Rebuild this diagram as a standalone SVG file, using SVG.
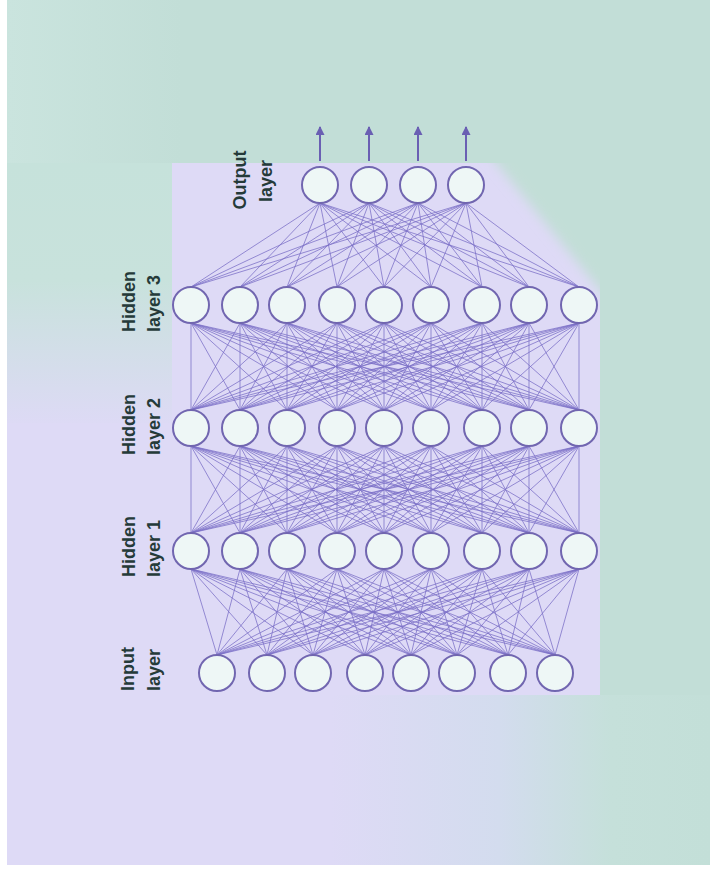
<svg xmlns="http://www.w3.org/2000/svg" width="710" height="877" viewBox="0 0 710 877">
<defs>
<style>
.nd{fill:#eef7f6;stroke:#7166b0;stroke-width:2}
.cn{fill:none;stroke:#7a6fc7;stroke-width:0.9;stroke-opacity:0.85}
.lb{font-family:"Liberation Sans",Arial,sans-serif;font-weight:bold;font-size:18px;fill:#253a39}
.ar{stroke:#6a5fb3;stroke-width:2;fill:none}
</style>
<marker id="ah" viewBox="0 0 10 10" refX="9" refY="5" markerWidth="10" markerHeight="9" orient="auto" markerUnits="userSpaceOnUse">
<path d="M0,0 L10,5 L0,10 z" fill="#6a5fb3"/>
</marker>
<filter id="soft" x="-20%" y="-20%" width="140%" height="140%">
<feGaussianBlur stdDeviation="6"/>
</filter>
<linearGradient id="gl" x1="0" y1="0" x2="0" y2="1">
<stop offset="0" stop-color="#c6e2db"/>
<stop offset="0.45" stop-color="#c8e2dc"/>
<stop offset="1" stop-color="#dddaf5"/>
</linearGradient>
<linearGradient id="gb" x1="7" y1="0" x2="710" y2="0" gradientUnits="userSpaceOnUse">
<stop offset="0" stop-color="#dedaf6"/>
<stop offset="0.46" stop-color="#dedaf6"/>
<stop offset="0.7" stop-color="#d3dcee"/>
<stop offset="0.86" stop-color="#c5e0da"/>
<stop offset="1" stop-color="#c3dfd8"/>
</linearGradient>
<linearGradient id="gt" x1="0" y1="0" x2="1" y2="0">
<stop offset="0" stop-color="#cae4de"/>
<stop offset="1" stop-color="#c2ded7"/>
</linearGradient>
</defs>
<g id="background">
<rect x="0" y="0" width="710" height="877" fill="#ffffff"/>
<rect x="7" y="0" width="703" height="865" fill="#dedaf6"/>
<polygon points="461,120 640,120 640,339" fill="#c2ded7" filter="url(#soft)"/>
<rect x="600" y="163" width="110" height="532" fill="#c2ded7"/>
<rect x="7" y="0" width="703" height="163" fill="#c2ded7"/>
<rect x="7" y="0" width="175" height="163" fill="url(#gt)"/>
<rect x="7" y="163" width="165" height="260" fill="url(#gl)"/>
<rect x="7" y="695" width="703" height="170" fill="url(#gb)"/>
</g>
<g id="connectors">
<path class="cn" d="M217 655L191 569M217 655L240 569M217 655L287 569M217 655L337 569M217 655L384 569M217 655L431 569M217 655L482 569M217 655L529 569M217 655L579 569
M267 655L191 569M267 655L240 569M267 655L287 569M267 655L337 569M267 655L384 569M267 655L431 569M267 655L482 569M267 655L529 569M267 655L579 569
M313 655L191 569M313 655L240 569M313 655L287 569M313 655L337 569M313 655L384 569M313 655L431 569M313 655L482 569M313 655L529 569M313 655L579 569
M365 655L191 569M365 655L240 569M365 655L287 569M365 655L337 569M365 655L384 569M365 655L431 569M365 655L482 569M365 655L529 569M365 655L579 569
M411 655L191 569M411 655L240 569M411 655L287 569M411 655L337 569M411 655L384 569M411 655L431 569M411 655L482 569M411 655L529 569M411 655L579 569
M457 655L191 569M457 655L240 569M457 655L287 569M457 655L337 569M457 655L384 569M457 655L431 569M457 655L482 569M457 655L529 569M457 655L579 569
M508 655L191 569M508 655L240 569M508 655L287 569M508 655L337 569M508 655L384 569M508 655L431 569M508 655L482 569M508 655L529 569M508 655L579 569
M555 655L191 569M555 655L240 569M555 655L287 569M555 655L337 569M555 655L384 569M555 655L431 569M555 655L482 569M555 655L529 569M555 655L579 569"/>
<path class="cn" d="M191 533L191 446M191 533L240 446M191 533L287 446M191 533L337 446M191 533L384 446M191 533L431 446M191 533L482 446M191 533L529 446M191 533L579 446
M240 533L191 446M240 533L240 446M240 533L287 446M240 533L337 446M240 533L384 446M240 533L431 446M240 533L482 446M240 533L529 446M240 533L579 446
M287 533L191 446M287 533L240 446M287 533L287 446M287 533L337 446M287 533L384 446M287 533L431 446M287 533L482 446M287 533L529 446M287 533L579 446
M337 533L191 446M337 533L240 446M337 533L287 446M337 533L337 446M337 533L384 446M337 533L431 446M337 533L482 446M337 533L529 446M337 533L579 446
M384 533L191 446M384 533L240 446M384 533L287 446M384 533L337 446M384 533L384 446M384 533L431 446M384 533L482 446M384 533L529 446M384 533L579 446
M431 533L191 446M431 533L240 446M431 533L287 446M431 533L337 446M431 533L384 446M431 533L431 446M431 533L482 446M431 533L529 446M431 533L579 446
M482 533L191 446M482 533L240 446M482 533L287 446M482 533L337 446M482 533L384 446M482 533L431 446M482 533L482 446M482 533L529 446M482 533L579 446
M529 533L191 446M529 533L240 446M529 533L287 446M529 533L337 446M529 533L384 446M529 533L431 446M529 533L482 446M529 533L529 446M529 533L579 446
M579 533L191 446M579 533L240 446M579 533L287 446M579 533L337 446M579 533L384 446M579 533L431 446M579 533L482 446M579 533L529 446M579 533L579 446"/>
<path class="cn" d="M191 410L191 323M191 410L240 323M191 410L287 323M191 410L337 323M191 410L384 323M191 410L431 323M191 410L482 323M191 410L529 323M191 410L579 323
M240 410L191 323M240 410L240 323M240 410L287 323M240 410L337 323M240 410L384 323M240 410L431 323M240 410L482 323M240 410L529 323M240 410L579 323
M287 410L191 323M287 410L240 323M287 410L287 323M287 410L337 323M287 410L384 323M287 410L431 323M287 410L482 323M287 410L529 323M287 410L579 323
M337 410L191 323M337 410L240 323M337 410L287 323M337 410L337 323M337 410L384 323M337 410L431 323M337 410L482 323M337 410L529 323M337 410L579 323
M384 410L191 323M384 410L240 323M384 410L287 323M384 410L337 323M384 410L384 323M384 410L431 323M384 410L482 323M384 410L529 323M384 410L579 323
M431 410L191 323M431 410L240 323M431 410L287 323M431 410L337 323M431 410L384 323M431 410L431 323M431 410L482 323M431 410L529 323M431 410L579 323
M482 410L191 323M482 410L240 323M482 410L287 323M482 410L337 323M482 410L384 323M482 410L431 323M482 410L482 323M482 410L529 323M482 410L579 323
M529 410L191 323M529 410L240 323M529 410L287 323M529 410L337 323M529 410L384 323M529 410L431 323M529 410L482 323M529 410L529 323M529 410L579 323
M579 410L191 323M579 410L240 323M579 410L287 323M579 410L337 323M579 410L384 323M579 410L431 323M579 410L482 323M579 410L529 323M579 410L579 323"/>
<path class="cn" d="M191 287L320 203M191 287L369 203M191 287L418 203M191 287L466 203
M240 287L320 203M240 287L369 203M240 287L418 203M240 287L466 203
M287 287L320 203M287 287L369 203M287 287L418 203M287 287L466 203
M337 287L320 203M337 287L369 203M337 287L418 203M337 287L466 203
M384 287L320 203M384 287L369 203M384 287L418 203M384 287L466 203
M431 287L320 203M431 287L369 203M431 287L418 203M431 287L466 203
M482 287L320 203M482 287L369 203M482 287L418 203M482 287L466 203
M529 287L320 203M529 287L369 203M529 287L418 203M529 287L466 203
M579 287L320 203M579 287L369 203M579 287L418 203M579 287L466 203"/>
<line class="ar" x1="320" y1="161" x2="320" y2="127" marker-end="url(#ah)"/>
<line class="ar" x1="369" y1="161" x2="369" y2="127" marker-end="url(#ah)"/>
<line class="ar" x1="418" y1="161" x2="418" y2="127" marker-end="url(#ah)"/>
<line class="ar" x1="466" y1="161" x2="466" y2="127" marker-end="url(#ah)"/>
</g>
<g id="output-layer">
<circle class="nd" cx="320" cy="185" r="18"/>
<circle class="nd" cx="369" cy="185" r="18"/>
<circle class="nd" cx="418" cy="185" r="18"/>
<circle class="nd" cx="466" cy="185" r="18"/>
<text class="lb" x="246" y="180" text-anchor="middle" transform="rotate(-90 246 180)">Output</text>
<text class="lb" x="272" y="181" text-anchor="middle" transform="rotate(-90 272 181)">layer</text>
</g>
<g id="hidden-layer-3">
<circle class="nd" cx="191" cy="305" r="18"/>
<circle class="nd" cx="240" cy="305" r="18"/>
<circle class="nd" cx="287" cy="305" r="18"/>
<circle class="nd" cx="337" cy="305" r="18"/>
<circle class="nd" cx="384" cy="305" r="18"/>
<circle class="nd" cx="431" cy="305" r="18"/>
<circle class="nd" cx="482" cy="305" r="18"/>
<circle class="nd" cx="529" cy="305" r="18"/>
<circle class="nd" cx="579" cy="305" r="18"/>
<text class="lb" x="135" y="332" transform="rotate(-90 135 332)">Hidden</text>
<text class="lb" x="160" y="332" transform="rotate(-90 160 332)">layer 3</text>
</g>
<g id="hidden-layer-2">
<circle class="nd" cx="191" cy="428" r="18"/>
<circle class="nd" cx="240" cy="428" r="18"/>
<circle class="nd" cx="287" cy="428" r="18"/>
<circle class="nd" cx="337" cy="428" r="18"/>
<circle class="nd" cx="384" cy="428" r="18"/>
<circle class="nd" cx="431" cy="428" r="18"/>
<circle class="nd" cx="482" cy="428" r="18"/>
<circle class="nd" cx="529" cy="428" r="18"/>
<circle class="nd" cx="579" cy="428" r="18"/>
<text class="lb" x="135" y="455" transform="rotate(-90 135 455)">Hidden</text>
<text class="lb" x="160" y="455" transform="rotate(-90 160 455)">layer 2</text>
</g>
<g id="hidden-layer-1">
<circle class="nd" cx="191" cy="551" r="18"/>
<circle class="nd" cx="240" cy="551" r="18"/>
<circle class="nd" cx="287" cy="551" r="18"/>
<circle class="nd" cx="337" cy="551" r="18"/>
<circle class="nd" cx="384" cy="551" r="18"/>
<circle class="nd" cx="431" cy="551" r="18"/>
<circle class="nd" cx="482" cy="551" r="18"/>
<circle class="nd" cx="529" cy="551" r="18"/>
<circle class="nd" cx="579" cy="551" r="18"/>
<text class="lb" x="135" y="577" transform="rotate(-90 135 577)">Hidden</text>
<text class="lb" x="160" y="577" transform="rotate(-90 160 577)">layer 1</text>
</g>
<g id="input-layer">
<circle class="nd" cx="217" cy="673" r="18"/>
<circle class="nd" cx="267" cy="673" r="18"/>
<circle class="nd" cx="313" cy="673" r="18"/>
<circle class="nd" cx="365" cy="673" r="18"/>
<circle class="nd" cx="411" cy="673" r="18"/>
<circle class="nd" cx="457" cy="673" r="18"/>
<circle class="nd" cx="508" cy="673" r="18"/>
<circle class="nd" cx="555" cy="673" r="18"/>
<text class="lb" x="134" y="691" transform="rotate(-90 134 691)">Input</text>
<text class="lb" x="160" y="691" transform="rotate(-90 160 691)">layer</text>
</g>
</svg>
